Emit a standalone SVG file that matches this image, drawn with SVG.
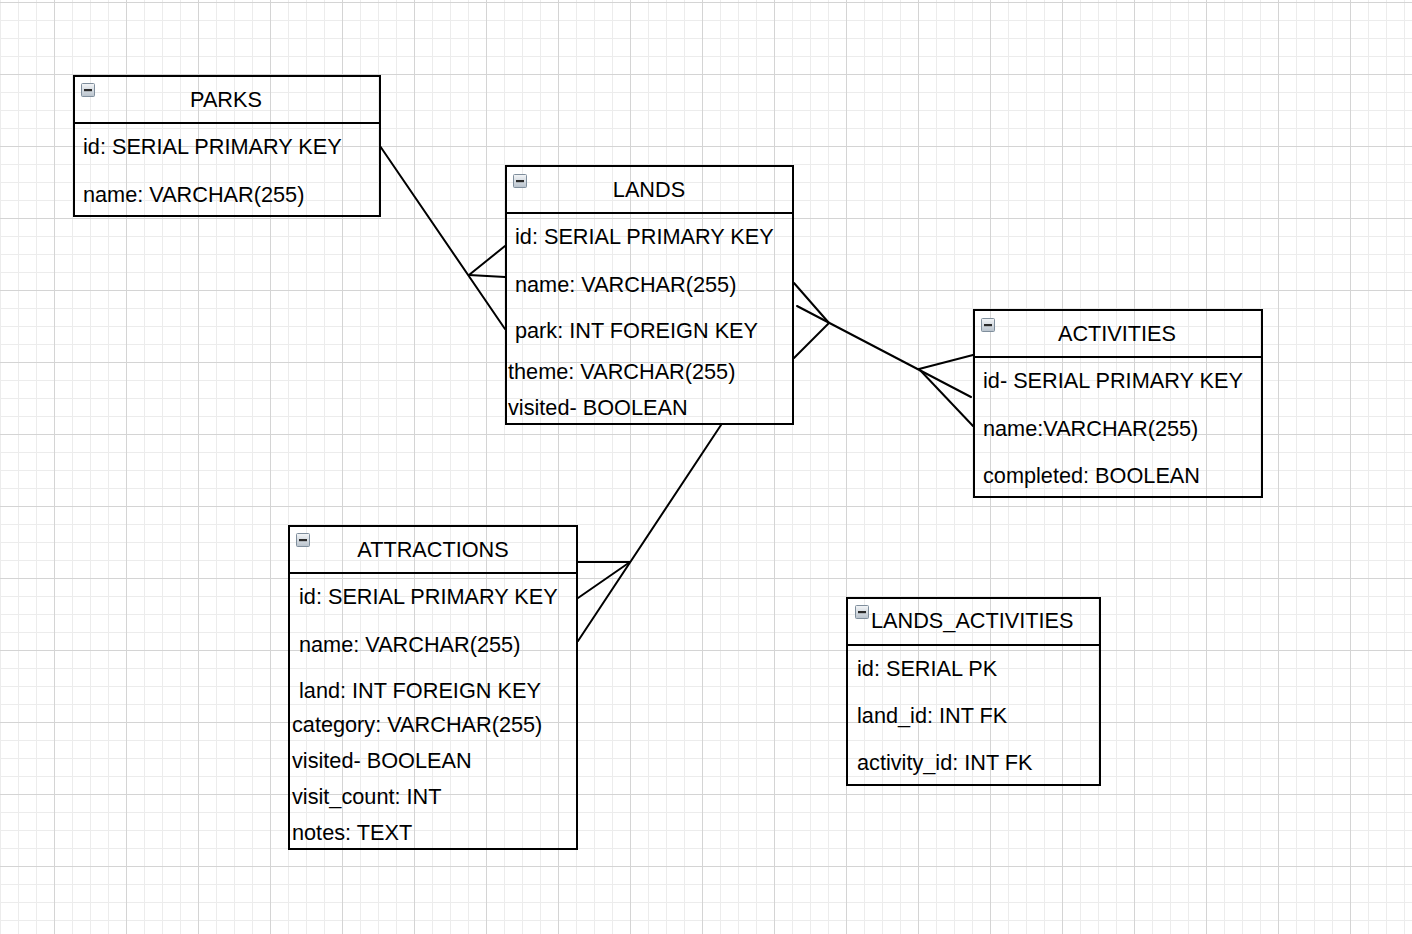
<svg xmlns="http://www.w3.org/2000/svg" width="1412" height="934" viewBox="0 0 1412 934">
  <style>
    .tbl { fill: none; stroke: #000; stroke-width: 2; }
    .sep { stroke: #000; stroke-width: 2; }
    .title { font-family: "Liberation Sans", Arial, sans-serif; font-size: 21.7px; fill: #000; text-anchor: middle; }
    .row { font-family: "Liberation Sans", Arial, sans-serif; font-size: 21.7px; fill: #000; }
    .conn { fill: none; stroke: #000; stroke-width: 2; stroke-linecap: round; }
  </style>
  <defs>
    <pattern id="minor" x="0" y="2" width="18" height="18" patternUnits="userSpaceOnUse">
      <rect x="0" y="0" width="1" height="18" fill="#ececec"/>
      <rect x="0" y="0" width="18" height="1" fill="#ececec"/>
    </pattern>
    <pattern id="major" x="54" y="2" width="72" height="72" patternUnits="userSpaceOnUse">
      <rect x="0" y="0" width="1" height="72" fill="#d4d4d4"/>
      <rect x="0" y="0" width="72" height="1" fill="#d4d4d4"/>
    </pattern>
    <linearGradient id="icoGrad" x1="0" y1="0" x2="0" y2="1">
      <stop offset="0" stop-color="#f4f6f8"/>
      <stop offset="1" stop-color="#b8c2cc"/>
    </linearGradient>
    <g id="icon">
      <rect x="0.5" y="0.5" width="13" height="13" rx="1" fill="url(#icoGrad)" stroke="#7f8e9c" stroke-width="1"/>
      <rect x="3" y="6" width="8" height="2.2" fill="#2a2a2a"/>
    </g>
  </defs>

  <rect width="1412" height="934" fill="#ffffff"/>
  <rect width="1412" height="934" fill="url(#minor)"/>
  <rect width="1412" height="934" fill="url(#major)"/>

  <g id="connectors">
    <!-- PARKS to LANDS -->
    <path class="conn" d="M380 146 L505 329"/>
    <path class="conn" d="M469 275 L505 246"/>
    <path class="conn" d="M469 275 L505 277"/>
    <!-- LANDS to ACTIVITIES -->
    <path class="conn" d="M797 306 L971 397"/>
    <path class="conn" d="M829 323 L794 283"/>
    <path class="conn" d="M829 323 L794 358"/>
    <path class="conn" d="M919 369 L973 355"/>
    <path class="conn" d="M919 369 L973 426"/>
    <!-- LANDS to ATTRACTIONS -->
    <path class="conn" d="M721 425 L578 641"/>
    <path class="conn" d="M630 562 L578 562"/>
    <path class="conn" d="M630 562 L578 598"/>
  </g>

  <g id="parks">
    <rect class="tbl" x="74" y="76" width="306" height="140"/>
    <line class="sep" x1="74" y1="123" x2="380" y2="123"/>
    <use href="#icon" x="81" y="83"/>
    <text class="title" x="226" y="107">PARKS</text>
    <text class="row" x="83" y="154">id: SERIAL PRIMARY KEY</text>
    <text class="row" x="83" y="202">name: VARCHAR(255)</text>
  </g>

  <g id="lands">
    <rect class="tbl" x="506" y="166" width="287" height="258"/>
    <line class="sep" x1="506" y1="213" x2="793" y2="213"/>
    <use href="#icon" x="513" y="174"/>
    <text class="title" x="649" y="197">LANDS</text>
    <text class="row" x="515" y="244">id: SERIAL PRIMARY KEY</text>
    <text class="row" x="515" y="292">name: VARCHAR(255)</text>
    <text class="row" x="515" y="338">park: INT FOREIGN KEY</text>
    <text class="row" x="508" y="379">theme: VARCHAR(255)</text>
    <text class="row" x="508" y="415">visited- BOOLEAN</text>
  </g>

  <g id="activities">
    <rect class="tbl" x="974" y="310" width="288" height="187"/>
    <line class="sep" x1="974" y1="357" x2="1262" y2="357"/>
    <use href="#icon" x="981" y="318"/>
    <text class="title" x="1117" y="341">ACTIVITIES</text>
    <text class="row" x="983" y="388">id- SERIAL PRIMARY KEY</text>
    <text class="row" x="983" y="436">name:VARCHAR(255)</text>
    <text class="row" x="983" y="483">completed: BOOLEAN</text>
  </g>

  <g id="attractions">
    <rect class="tbl" x="289" y="526" width="288" height="323"/>
    <line class="sep" x1="289" y1="573" x2="577" y2="573"/>
    <use href="#icon" x="296" y="533"/>
    <text class="title" x="433" y="557">ATTRACTIONS</text>
    <text class="row" x="299" y="604">id: SERIAL PRIMARY KEY</text>
    <text class="row" x="299" y="652">name: VARCHAR(255)</text>
    <text class="row" x="299" y="698">land: INT FOREIGN KEY</text>
    <text class="row" x="292" y="732">category: VARCHAR(255)</text>
    <text class="row" x="292" y="768">visited- BOOLEAN</text>
    <text class="row" x="292" y="804">visit_count: INT</text>
    <text class="row" x="292" y="840">notes: TEXT</text>
  </g>

  <g id="lands_activities">
    <rect class="tbl" x="847" y="598" width="253" height="187"/>
    <line class="sep" x1="847" y1="645" x2="1100" y2="645"/>
    <use href="#icon" x="855" y="605"/>
    <text class="row" x="871" y="628">LANDS_ACTIVITIES</text>
    <text class="row" x="857" y="676">id: SERIAL PK</text>
    <text class="row" x="857" y="723">land_id: INT FK</text>
    <text class="row" x="857" y="770">activity_id: INT FK</text>
  </g>
</svg>
